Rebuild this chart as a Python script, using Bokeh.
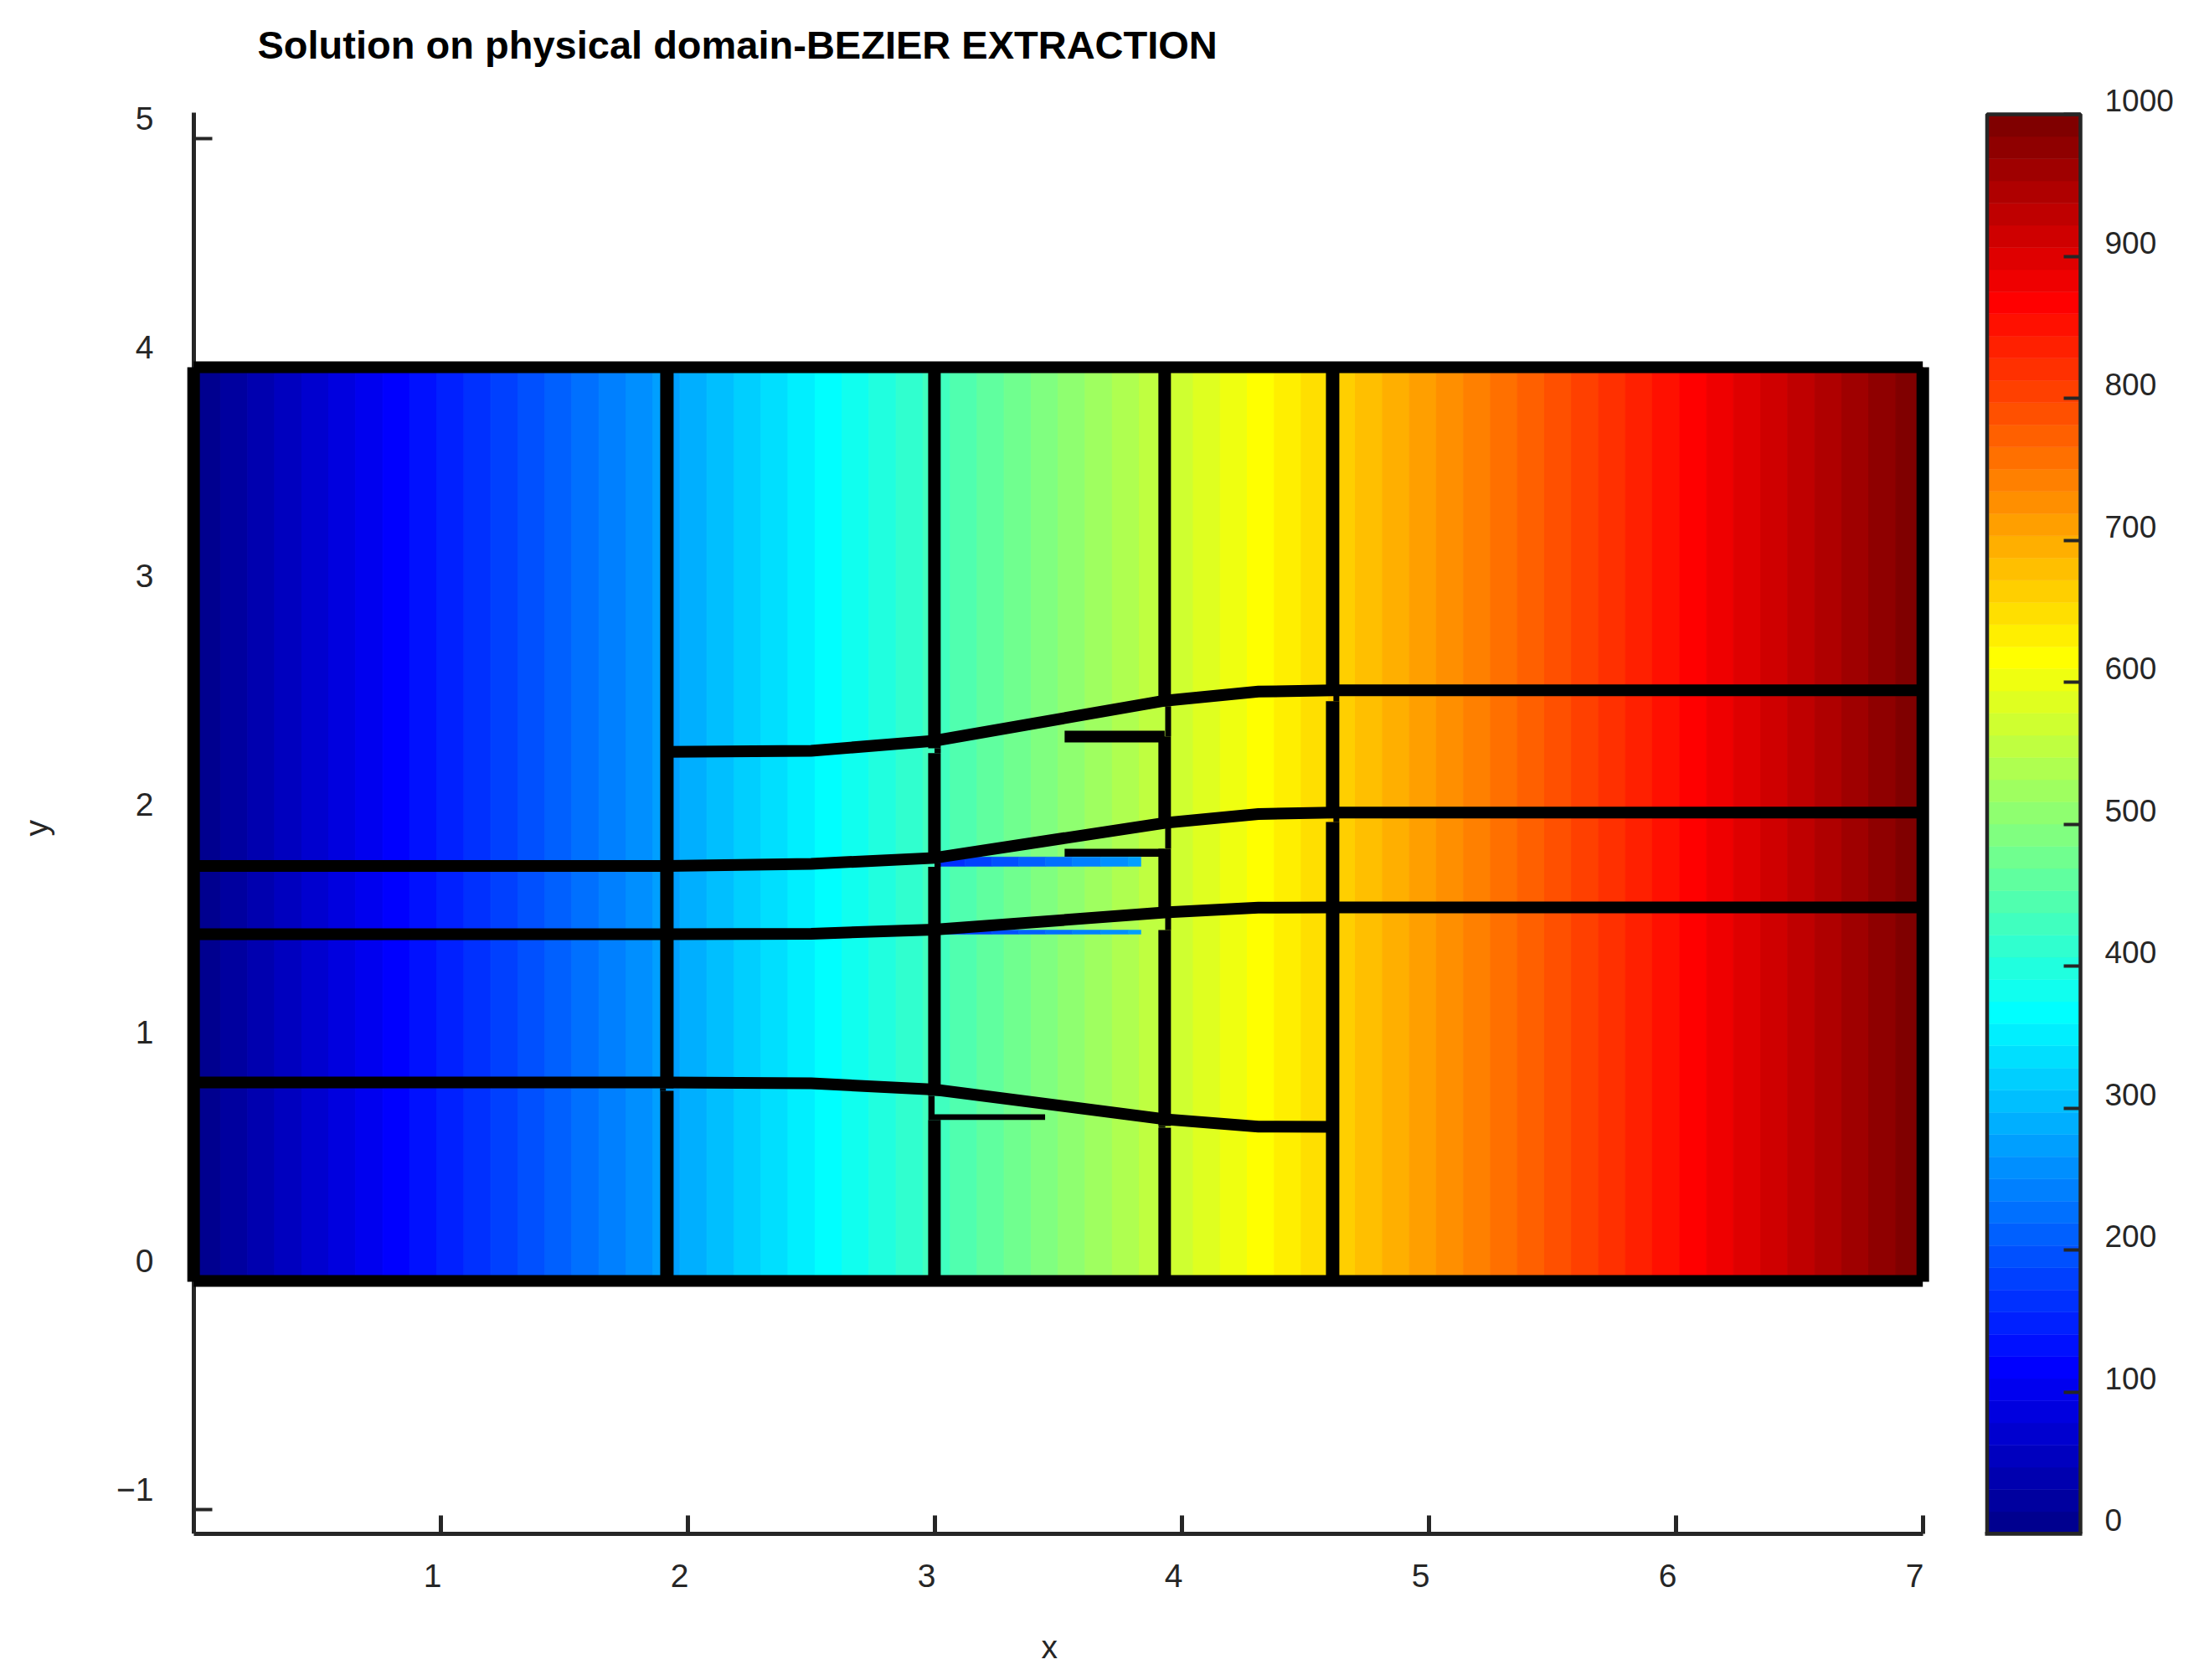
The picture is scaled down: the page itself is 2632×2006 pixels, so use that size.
from bokeh.embed import file_html
from bokeh.resources import INLINE
from bokeh.layouts import row
from bokeh.models import (FixedTicker, LinearAxis, Range1d, Title, CustomLabelingPolicy)
from bokeh.plotting import figure

# ---- data ----
title_text = "Solution on physical domain-BEZIER EXTRACTION"
x_ticks = [1, 2, 3, 4, 5, 6, 7]
y_ticks = [-1, 0, 1, 2, 3, 4, 5]
c_ticks = [0, 100, 200, 300, 400, 500, 600, 700, 800, 900, 1000]

# band edges of the solution (one colour level per band)
band_edges = [0, .109, .219, .328, .438, .547, .656, .766, .875, .984, 1.094, 1.203, 1.313,
              1.422, 1.531, 1.641, 1.75, 1.859, 1.969, 2.078, 2.188, 2.297, 2.406, 2.516,
              2.625, 2.734, 2.844, 2.953, 3.063, 3.172, 3.281, 3.391, 3.5, 3.609, 3.719,
              3.828, 3.938, 4.047, 4.156, 4.266, 4.375, 4.484, 4.594, 4.703, 4.813, 4.922,
              5.031, 5.141, 5.25, 5.359, 5.469, 5.578, 5.688, 5.797, 5.906, 6.016, 6.125,
              6.234, 6.344, 6.453, 6.563, 6.672, 6.781, 6.891, 7.0]

# mesh polylines (x, y)
line_a_x = [1.917, 2.5, 3.0, 3.931, 4.31, 4.611, 7.0]
line_a_y = [2.316, 2.321, 2.365, 2.54, 2.58, 2.586, 2.586]
line_b_x = [0.0, 1.917, 2.5, 3.0, 3.931, 4.31, 4.611, 7.0]
line_b_y = [1.817, 1.817, 1.826, 1.852, 2.005, 2.044, 2.05, 2.05]
line_c_x = [0.0, 1.917, 2.5, 3.0, 3.931, 4.31, 4.611, 7.0]
line_c_y = [1.518, 1.518, 1.52, 1.538, 1.613, 1.634, 1.635, 1.635]
line_d_x = [0.0, 1.917, 2.5, 3.0, 3.931, 4.31, 4.611]
line_d_y = [0.869, 0.869, 0.865, 0.838, 0.708, 0.676, 0.675]

# outer boundary
bound_x = [0.0, 7.0]
bound_y = [0.0, 4.0]

# vertical mesh lines: x, y from, y to, width
v_x = [0.0, 7.0,
       1.916, 1.916, 1.900,
       2.999, 3.012, 2.999, 3.012, 2.999, 2.987, 2.999,
       3.931, 3.945, 3.931, 3.945, 3.931, 3.945, 3.931, 3.920, 3.931,
       4.611, 4.626, 4.611, 4.626, 4.611]
v_y0 = [4.0, 4.0,
        4.0, 0.832, 0.843,
        4.0, 2.332, 2.311, 1.830, 1.813, 0.810, 0.705,
        4.0, 2.515, 2.384, 1.983, 1.892, 1.591, 1.536, 0.678, 0.671,
        4.0, 2.563, 2.538, 2.027, 2.009]
v_y1 = [-0.004, -0.004,
        0.843, 0.0, 0.832,
        2.332, 2.311, 1.830, 1.813, 0.810, 0.705, 0.0,
        2.515, 2.384, 1.983, 1.892, 1.591, 1.536, 0.678, 0.671, 0.0,
        2.563, 2.538, 2.027, 2.009, 0.0]
v_w = [15, 15,
       16, 16, 7,
       15, 7.5, 15, 7.5, 15, 7.5, 15,
       15, 7, 15, 7, 15, 7, 15, 8, 15,
       16, 7, 16, 7, 16]

# short stub bars: x from, x to, y, width
bar_x0 = [3.526, 3.526, 2.998]
bar_x1 = [3.931, 3.931, 3.447]
bar_y = [2.383, 1.874, 0.717]
bar_w = [14, 9.5, 6.7]

# blue slivers
sliver_edges = [3.001, 3.123, 3.232, 3.34, 3.449, 3.557, 3.672, 3.784, 3.835]
sliver_levels = [11, 12, 13, 14, 15, 16, 17, 18]
sliver1_y = [1.815, 1.856]
sliver2_y = [1.518, 1.536]

TICK = "#262626"
FONT = "Liberation Sans"
NBSP = "\u00a0"
X_MIN, X_MAX = -0.0498, 7.0519
Y_MIN, Y_AXIS_TOP, Y_MAX = -1.1072, 5.1146, 5.2319
# tick labels sit up and to the left of their ticks in the source figure:
# they get an axis of their own on a slightly shifted range
X_LABEL_SHIFT = 0.0322
Y_LABEL_SHIFT = 0.088
C_LABEL_SHIFT = 9.73


def jet_level(i):
    """MATLAB jet(64), level i = 1..64."""
    r = min(max((i - 24) / 16, 0), 1) - min(max((i - 56) / 16, 0), 0.5)
    g = min(max((i - 8) / 16, 0), 1) - min(max((i - 40) / 16, 0), 1)
    b = min(0.5 + i / 16, 1) - min(max((i - 24) / 16, 0), 1)
    return "#%02x%02x%02x" % (round(r * 255), round(g * 255), round(b * 255))


jet = [jet_level(i) for i in range(1, 65)]


def no_labels():
    return CustomLabelingPolicy(code="return []")


# ---- main figure ----
W1, H = 2320, 1995
LEFT, FRAME_W, TOP, BOTTOM = 216, 2095, 102, 164
p = figure(width=W1, height=H, output_backend="svg", toolbar_location=None,
           x_range=Range1d(X_MIN, X_MAX), y_range=Range1d(Y_MIN, Y_MAX),
           x_axis_type=None, y_axis_type=None,
           min_border_left=LEFT, min_border_right=W1 - LEFT - FRAME_W,
           min_border_top=TOP, min_border_bottom=BOTTOM)
p.outline_line_color = None
p.grid.visible = False
p.extra_x_ranges["xlab"] = Range1d(X_MIN + X_LABEL_SHIFT, X_MAX + X_LABEL_SHIFT)
p.extra_y_ranges["ylab"] = Range1d(Y_MIN - Y_LABEL_SHIFT, Y_MAX - Y_LABEL_SHIFT)
p.title = Title(text=title_text, align="left", offset=91, standoff=46,
                text_font=FONT, text_font_size="47px", text_font_style="bold",
                text_color="#000000")

xaxis = LinearAxis(ticker=FixedTicker(ticks=x_ticks), bounds=(0, 7),
                   major_label_policy=no_labels(),
                   axis_line_color=TICK, axis_line_width=5, major_tick_line_color=TICK,
                   major_tick_line_width=5, major_tick_in=22, major_tick_out=0,
                   minor_tick_line_color=None)
xlabel_axis = LinearAxis(ticker=FixedTicker(ticks=x_ticks), x_range_name="xlab",
                         axis_label="x" + NBSP * 2,
                         major_label_standoff=20, major_label_text_font=FONT,
                         major_label_text_font_size="39px", major_label_text_color=TICK,
                         axis_label_standoff=47, axis_label_text_font=FONT,
                         axis_label_text_font_size="39px", axis_label_text_font_style="normal",
                         axis_label_text_color=TICK,
                         axis_line_color=None, major_tick_line_color=None,
                         major_tick_in=0, major_tick_out=0, minor_tick_line_color=None)
yaxis = LinearAxis(ticker=FixedTicker(ticks=y_ticks), fixed_location=0,
                   bounds=(Y_MIN, Y_AXIS_TOP), major_label_policy=no_labels(),
                   axis_line_color=TICK, axis_line_width=5, major_tick_line_color=TICK,
                   major_tick_line_width=4, major_tick_in=22, major_tick_out=0,
                   minor_tick_line_color=None, level="underlay")
ylabel_axis = LinearAxis(ticker=FixedTicker(ticks=y_ticks), y_range_name="ylab",
                         axis_label="y" + NBSP * 4,
                         major_label_standoff=33, major_label_text_font=FONT,
                         major_label_text_font_size="39px", major_label_text_color=TICK,
                         axis_label_standoff=71, axis_label_text_font=FONT,
                         axis_label_text_font_size="39px", axis_label_text_font_style="normal",
                         axis_label_text_color=TICK,
                         axis_line_color=None, major_tick_line_color=None,
                         major_tick_in=0, major_tick_out=0, minor_tick_line_color=None)
p.add_layout(xaxis, "below")
p.add_layout(xlabel_axis, "below")
p.add_layout(yaxis, "left")
p.add_layout(ylabel_axis, "left")

# solution bands
p.quad(left=band_edges[:-1], right=band_edges[1:], bottom=bound_y[0], top=bound_y[1],
       fill_color=jet, line_color=jet, line_width=1)

# stub bars
p.segment(x0=bar_x0, y0=bar_y, x1=bar_x1, y1=bar_y, line_color="#000000", line_width=bar_w)

# blue slivers
sl_colors = [jet[k - 1] for k in sliver_levels]
for sy in (sliver1_y, sliver2_y):
    p.quad(left=sliver_edges[:-1], right=sliver_edges[1:], bottom=sy[0], top=sy[1],
           fill_color=sl_colors, line_color=sl_colors, line_width=0.5)

# mesh lines
p.multi_line(xs=[line_a_x, line_b_x, line_c_x, line_d_x],
             ys=[line_a_y, line_b_y, line_c_y, line_d_y],
             line_color="#000000", line_width=14, line_join="miter")
p.segment(x0=v_x, y0=v_y0, x1=v_x, y1=v_y1, line_color="#000000", line_width=v_w)
p.segment(x0=[bound_x[0], bound_x[0]], y0=[bound_y[1], bound_y[0]],
          x1=[bound_x[1], bound_x[1]], y1=[bound_y[1], bound_y[0]],
          line_color="#000000", line_width=14)

# ---- colour bar figure (its frame lines up with the main figure's frame) ----
W2 = 300
C_LO, C_HI = 0, 1020.06
c_edges = [1000 * k / 64 for k in range(65)]
pc = figure(width=W2, height=H, output_backend="svg", toolbar_location=None,
            x_range=Range1d(-0.1121, 1.1076), y_range=Range1d(C_LO, C_HI),
            x_axis_type=None, y_axis_type=None,
            min_border_left=40, min_border_right=W2 - 40 - 136,
            min_border_top=TOP, min_border_bottom=BOTTOM)
pc.outline_line_color = None
pc.grid.visible = False
pc.extra_y_ranges["clab"] = Range1d(C_LO - C_LABEL_SHIFT, C_HI - C_LABEL_SHIFT)
pc.quad(left=0, right=1, bottom=c_edges[:-1], top=c_edges[1:], fill_color=jet, line_color=jet,
        line_width=0.5)
pc.quad(left=0, right=1, bottom=0, top=1000, fill_color=None, line_color=TICK, line_width=4.5)
cax = LinearAxis(ticker=FixedTicker(ticks=c_ticks), fixed_location=1,
                 major_label_policy=no_labels(),
                 axis_line_color=None, major_tick_line_color=TICK, major_tick_line_width=4,
                 major_tick_in=20, major_tick_out=0, minor_tick_line_color=None)
clab = LinearAxis(ticker=FixedTicker(ticks=c_ticks), y_range_name="clab",
                  major_label_standoff=17, major_label_text_font=FONT,
                  major_label_text_font_size="37px", major_label_text_color=TICK,
                  axis_line_color=None, major_tick_line_color=None,
                  major_tick_in=0, major_tick_out=0, minor_tick_line_color=None)
cbottom = LinearAxis(ticker=FixedTicker(ticks=[]), bounds=(-0.02, 1.02),
                     major_label_policy=no_labels(),
                     axis_line_color=TICK, axis_line_width=4.5, major_tick_line_color=None,
                     minor_tick_line_color=None, major_tick_in=0, major_tick_out=0)
pc.add_layout(cax, "right")
pc.add_layout(clab, "right")
pc.add_layout(cbottom, "below")

layout = row(p, pc, spacing=0)
open("out.html", "w").write(file_html(layout, INLINE))
